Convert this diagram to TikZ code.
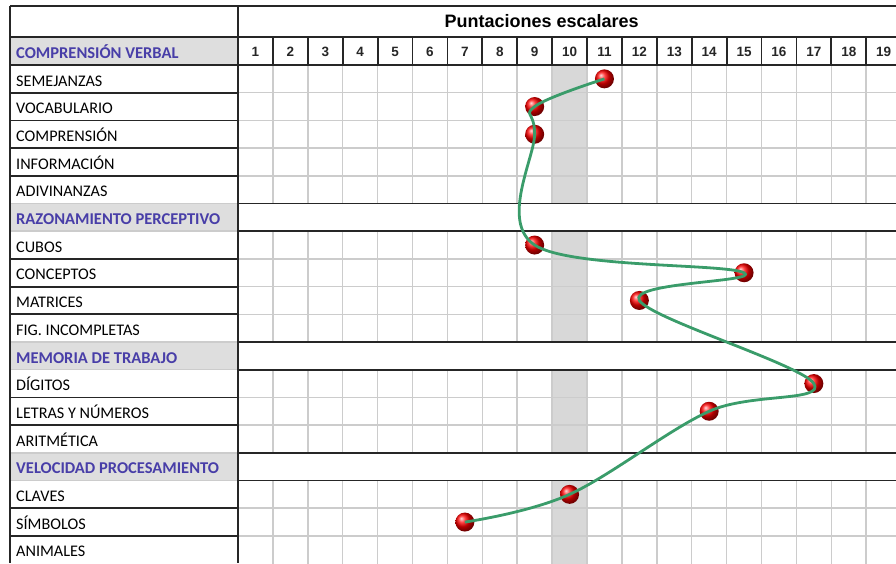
\documentclass[tikz,border=0pt]{standalone}
\usepackage{fontspec}
\setmainfont{Carlito}
\newfontfamily\arialfont{Liberation Sans}
\usetikzlibrary{positioning}

\definecolor{sectblue}{RGB}{72,62,168}
\definecolor{sectgray}{RGB}{222,222,222}
\definecolor{gridgray}{RGB}{204,204,204}
\definecolor{shadegray}{RGB}{216,216,216}
\definecolor{trendgreen}{RGB}{58,156,106}

\tikzset{
  darkline/.style={line width=1.8pt, black!85},
  gridline/.style={line width=1.5pt, gridgray},
  sectlabel/.style={anchor=base west, inner sep=0pt, text=sectblue,
    font=\fontsize{16.5}{17}\selectfont\bfseries},
  itemlabel/.style={anchor=base west, inner sep=0pt, text=black,
    font=\fontsize{16.2}{17}\selectfont},
  colnum/.style={anchor=base, inner sep=0pt, text=black!85,
    font=\arialfont\bfseries\fontsize{13.5}{14}\selectfont},
  scoreball/.style={circle, inner sep=0pt, minimum size=19pt, ball color=red},
  trend/.style={line width=2.8pt, trendgreen, line join=round},
}

\begin{document}
\begin{tikzpicture}[x=1pt, y=-1pt, >=latex]
  \useasboundingbox (0,0) rectangle (896,563);
  \clip (0,0) rectangle (896,563);
  \def\colw{34.9}
  \def\rowh{27.7}

  % gray cells and column 10
  \fill[sectgray] (10,37) rectangle (238,65);
  \foreach \r in {6,11,15}
    \fill[sectgray] (10,{65+(\r-1)*\rowh}) rectangle (238,{65+\r*\rowh});
  \foreach \a/\b in {1/5,7/10,12/14,16/18}
    \fill[shadegray] ({238+9*\colw},{65+(\a-1)*\rowh}) rectangle ({238+10*\colw},{65+\b*\rowh});

  % light grid
  \foreach \a/\b in {1/5,7/10,12/14,16/18}
    \foreach \k in {1,...,18}
      \draw[gridline] ({238+\k*\colw},{65+(\a-1)*\rowh}) -- ({238+\k*\colw},{65+\b*\rowh});
  \foreach \r in {2,3,4,5,8,9,10,13,14,17,18}{
    \draw[gridline] (238,{65+(\r-1)*\rowh}) -- (896,{65+(\r-1)*\rowh});
    \draw[darkline] (10,{65+(\r-1)*\rowh}) -- (238,{65+(\r-1)*\rowh});
  }
  \foreach \r in {6,7,11,12,15,16}{
    \draw[gridline] (10,{65+(\r-1)*\rowh}) -- (238,{65+(\r-1)*\rowh});
    \draw[darkline] (238,{65+(\r-1)*\rowh}) -- (896,{65+(\r-1)*\rowh});
  }

  % header frame
  \foreach \y in {6,37,65}
    \draw[darkline] (10,\y) -- (896,\y);
  \foreach \x in {10,238}
    \draw[darkline] (\x,6) -- (\x,563);
  \foreach \k in {1,...,18}
    \draw[darkline] ({238+\k*\colw},37) -- ({238+\k*\colw},65);

  % texts
  \node[anchor=base, inner sep=0pt, font=\arialfont\bfseries\fontsize{18}{20}\selectfont]
    (title) at (541.7,27.3) {Puntaciones escalares};
  \foreach \k in {1,...,19}
    \node[colnum] (num-\k) at ({238+(\k-0.5)*\colw},56.5) {\k};
  \node[sectlabel] (sect-cv) at (16,58.3) {COMPRENSIÓN VERBAL};
  \foreach \r/\t/\n in {6/RAZONAMIENTO PERCEPTIVO/rp, 11/MEMORIA DE TRABAJO/mt,
      15/VELOCIDAD PROCESAMIENTO/vp}
    \node[sectlabel] (sect-\n) at (16,{65+(\r-1)*\rowh+21}) {\t};
  \foreach \r/\t/\n in {1/SEMEJANZAS/sem, 2/VOCABULARIO/voc, 3/COMPRENSIÓN/comp,
      4/INFORMACIÓN/inf, 5/ADIVINANZAS/adv, 7/CUBOS/cub, 8/CONCEPTOS/con,
      9/MATRICES/mat, 10/FIG. INCOMPLETAS/fig, 12/DÍGITOS/dig,
      13/LETRAS Y NÚMEROS/let, 14/ARITMÉTICA/ari, 16/CLAVES/cla,
      17/SÍMBOLOS/sim, 18/ANIMALES/ani}
    \node[itemlabel] (lbl-\n) at (16,{65+(\r-1)*\rowh+21}) {\t};

  % scores
  \foreach \r/\c/\n in {1/11/sem, 2/9/voc, 3/9/comp, 7/9/cub, 8/15/con, 9/12/mat,
      12/17/dig, 13/14/let, 16/10/cla, 17/7/sim}
    \node[scoreball] (pt-\n) at ({238+(\c-0.5)*\colw},{65+(\r-0.5)*\rowh}) {};
  \draw[trend] plot[smooth, tension=0.6] coordinates {(pt-sem.center) (pt-voc.center)
    (pt-comp.center) (pt-cub.center) (pt-con.center) (pt-mat.center) (pt-dig.center)
    (pt-let.center) (pt-cla.center) (pt-sim.center)};
\end{tikzpicture}
\end{document}
